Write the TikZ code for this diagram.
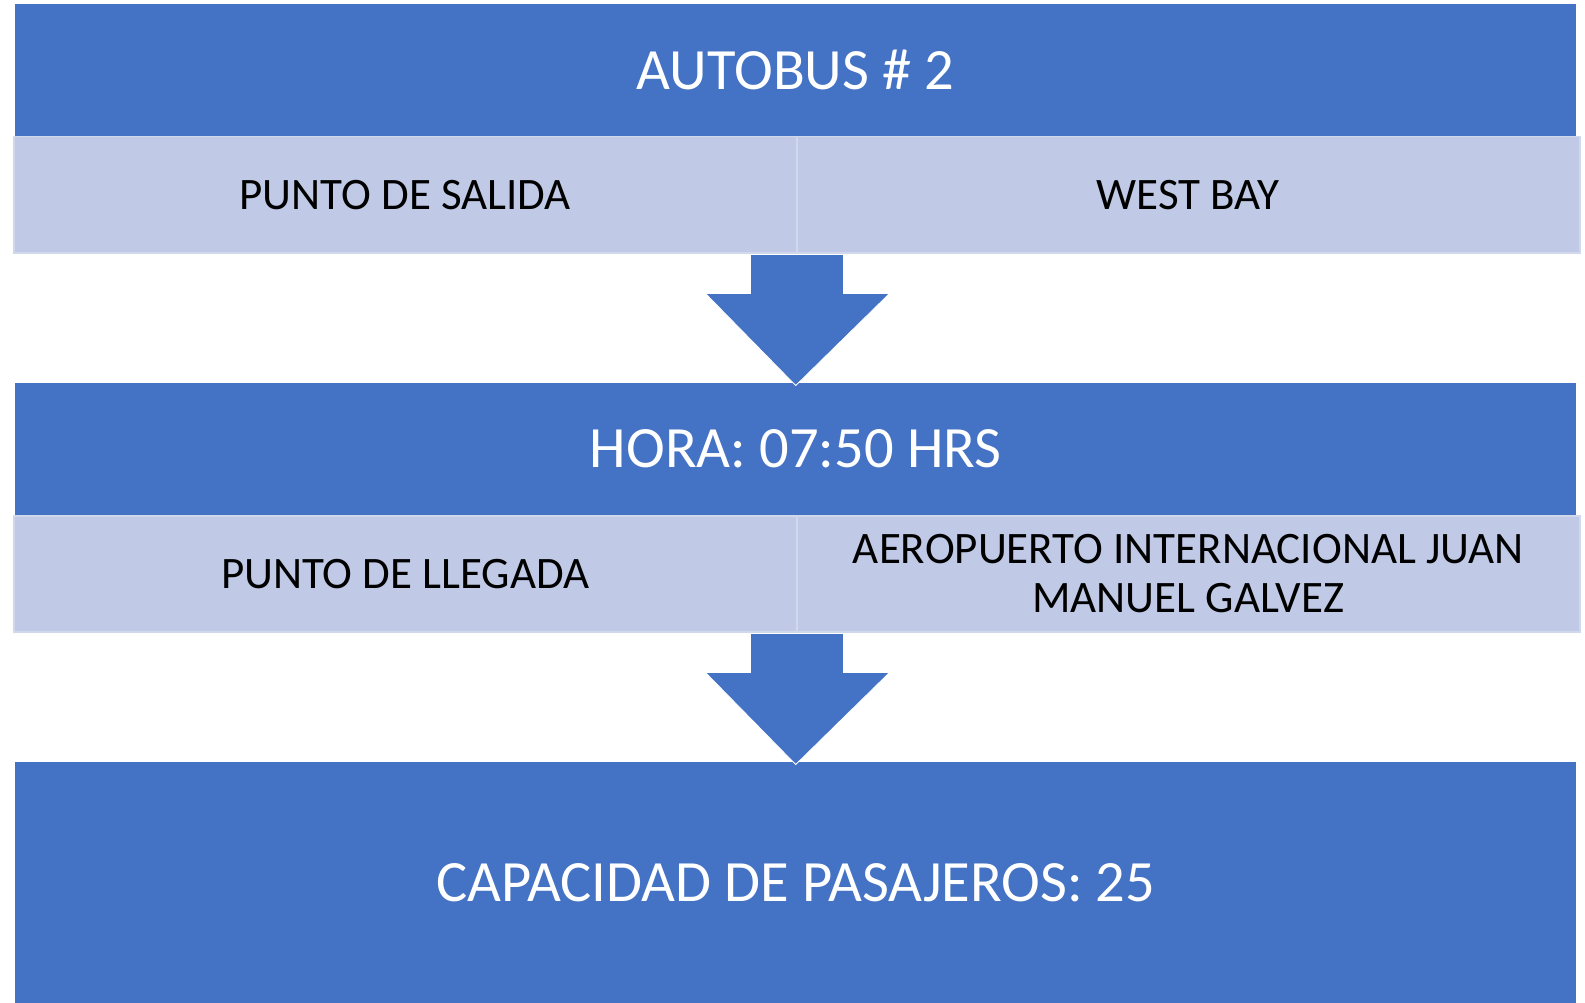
\documentclass[tikz,border=0pt]{standalone}
\usepackage{fontspec}
\setmainfont{Carlito}
\usetikzlibrary{calc}
\definecolor{officeblue}{HTML}{4472C4}
\definecolor{cellfill}{HTML}{C0CAE6}
\definecolor{celledge}{HTML}{D2D8EC}
\tikzset{
  headbox/.style={fill=officeblue, draw=none, inner sep=0pt, anchor=north west,
    text=white, font=\fontsize{58.5}{62}\selectfont, align=center},
  cellbox/.style={fill=cellfill, draw=celledge, line width=1.5pt, inner sep=0pt, anchor=north west,
    text=black, font=\fontsize{45}{49}\selectfont, align=center, minimum width=783pt, minimum height=116pt},
  blockarrow/.style={fill=officeblue, draw=white, line width=0.8pt}
}
\begin{document}
\begin{tikzpicture}[x=1pt,y=-1pt]
\useasboundingbox (0,0) rectangle (1585,1003);
% header
\node[headbox, minimum width=1561pt, minimum height=132pt] (bus) at (15,4) {AUTOBUS \# 2};
\node[cellbox] (salidaL) at (13,136) {PUNTO DE SALIDA};
\node[cellbox] (salidaR) at (796,136) {WEST BAY};
% second
\node[headbox, minimum width=1561pt, minimum height=132pt] (hora) at (15,383) {HORA: 07:50 HRS};
\node[cellbox] (llegadaL) at (13,515) {PUNTO DE LLEGADA};
\node[cellbox] (llegadaR) at (796,515) {AEROPUERTO INTERNACIONAL JUAN\\MANUEL GALVEZ};
% third
\node[headbox, minimum width=1561pt, minimum height=241pt] (cap) at (15,762) {CAPACIDAD DE PASAJEROS: 25};
% arrows
\foreach \src/\dst in {salidaL/hora, llegadaL/cap}{
  \path (\src.south east) coordinate (s) (\dst.north) coordinate (d);
  \draw[blockarrow]
    ($(s)+(-47,1)$) -- ($(s)+(46,1)$) -- ($(s)+(46,40)$) -- ($(s)+(92,40)$)
    -- ($(d |- s)+(0,132)$) -- ($(s)+(-92,40)$) -- ($(s)+(-47,40)$) -- cycle;
}
\end{tikzpicture}
\end{document}
